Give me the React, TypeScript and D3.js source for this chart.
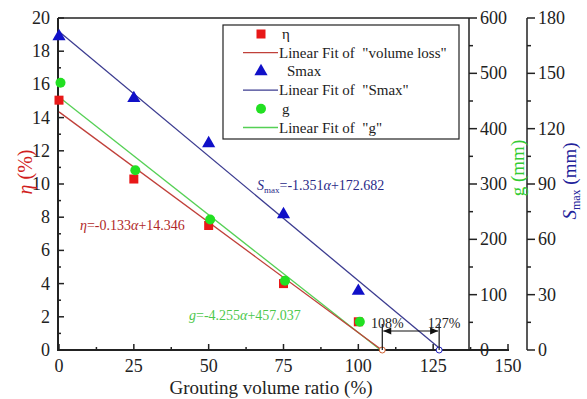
import { useEffect, useRef } from "react";
import * as d3 from "d3";

// grouting volume ratio (%)
const ratio = [0, 25, 50, 75, 100];
const etaVals = [15.05, 10.3, 7.5, 4.0, 1.7];
const smaxVals = [170, 136.5, 112, 73.5, 32];
const gVals = [483, 325, 236, 125, 51];

// linear fits: [slope, intercept, end x]
const etaFit = [-0.133, 14.346, 108];
const smaxFit = [-1.351, 172.682, 127];
const gFit = [-4.255, 457.037, 108];

const xTicks = [0, 25, 50, 75, 100, 125, 150];
const etaTicks = [0, 2, 4, 6, 8, 10, 12, 14, 16, 18, 20];
const gTicks = [0, 100, 200, 300, 400, 500, 600];
const smaxTicks = [0, 30, 60, 90, 120, 150, 180];

const FONT = "Liberation Serif, Times New Roman, DejaVu Serif, serif";

export default function App() {
    const svgRef = useRef<SVGSVGElement | null>(null);

    useEffect(() => {
        const svg = d3.select(svgRef.current);
        svg.selectAll("*").remove();

        const x = d3.scaleLinear().domain([0, 150]).range([59, 508]);
        const yL = d3.scaleLinear().domain([0, 20]).range([350, 18]);
        const yG = d3.scaleLinear().domain([0, 600]).range([350, 18]);
        const yS = d3.scaleLinear().domain([0, 180]).range([350, 18]);

        const axisX = 58;
        const gX = 469;
        const sX = 527;
        const baseY = 350;
        const topY = 18;

        const g = svg.append("g");

        // frame lines
        g.append("line").attr("x1", axisX).attr("x2", x(150) + 1).attr("y1", baseY).attr("y2", baseY)
            .attr("stroke", "#222").attr("stroke-width", 2);
        g.append("line").attr("x1", axisX).attr("x2", gX).attr("y1", topY).attr("y2", topY)
            .attr("stroke", "#222").attr("stroke-width", 1.5);
        g.append("line").attr("x1", axisX).attr("x2", axisX).attr("y1", topY).attr("y2", baseY + 1)
            .attr("stroke", "#222").attr("stroke-width", 2);
        g.append("line").attr("x1", gX).attr("x2", gX).attr("y1", topY).attr("y2", baseY)
            .attr("stroke", "#222").attr("stroke-width", 1.5);
        g.append("line").attr("x1", sX).attr("x2", sX).attr("y1", topY).attr("y2", baseY)
            .attr("stroke", "#222").attr("stroke-width", 1.5);

        // bottom axis ticks (inward)
        d3.range(0, 151, 12.5).forEach((v) => {
            const major = v % 25 === 0;
            g.append("line").attr("x1", x(v)).attr("x2", x(v)).attr("y1", baseY).attr("y2", baseY - (major ? 6 : 3))
                .attr("stroke", "#222").attr("stroke-width", 1.5);
        });
        g.selectAll(".xl").data(xTicks).join("text")
            .attr("x", (d) => x(d)).attr("y", 372).attr("text-anchor", "middle")
            .attr("font-size", 18).attr("fill", "#222").text((d) => d);

        // left axis ticks (inward)
        d3.range(0, 21, 1).forEach((v) => {
            const major = v % 2 === 0;
            g.append("line").attr("x1", axisX).attr("x2", axisX + (major ? 6 : 3)).attr("y1", yL(v)).attr("y2", yL(v))
                .attr("stroke", "#222").attr("stroke-width", 1.5);
        });
        g.selectAll(".yl").data(etaTicks).join("text")
            .attr("x", 50).attr("y", (d) => yL(d) + 6).attr("text-anchor", "end")
            .attr("font-size", 18).attr("fill", "#222").text((d) => d);

        // g axis (outward right)
        d3.range(0, 601, 50).forEach((v) => {
            const major = v % 100 === 0;
            g.append("line").attr("x1", gX).attr("x2", gX + (major ? 8 : 4)).attr("y1", yG(v)).attr("y2", yG(v))
                .attr("stroke", "#222").attr("stroke-width", 1.5);
        });
        g.selectAll(".gl").data(gTicks).join("text")
            .attr("x", gX + 11).attr("y", (d) => yG(d) + 6).attr("text-anchor", "start")
            .attr("font-size", 18).attr("fill", "#222").text((d) => d);

        // Smax axis (outward right)
        d3.range(0, 181, 15).forEach((v) => {
            const major = v % 30 === 0;
            g.append("line").attr("x1", sX).attr("x2", sX + (major ? 8 : 4)).attr("y1", yS(v)).attr("y2", yS(v))
                .attr("stroke", "#222").attr("stroke-width", 1.5);
        });
        g.selectAll(".sl").data(smaxTicks).join("text")
            .attr("x", sX + 11).attr("y", (d) => yS(d) + 6).attr("text-anchor", "start")
            .attr("font-size", 18).attr("fill", "#222").text((d) => d);

        // axis titles
        g.append("text").attr("x", 271).attr("y", 394).attr("text-anchor", "middle")
            .attr("font-size", 19).attr("fill", "#222").text("Grouting volume ratio (%)");

        const etaTitle = g.append("text").attr("transform", "translate(32,172) rotate(-90)")
            .attr("text-anchor", "middle").attr("font-size", 20).attr("fill", "#d02020");
        etaTitle.append("tspan").attr("font-style", "italic").text("η");
        etaTitle.append("tspan").text("\u00a0(%)");

        g.append("text").attr("transform", "translate(524,168) rotate(-90)")
            .attr("text-anchor", "middle").attr("font-size", 19).attr("fill", "#33cc33").text("g (mm)");

        const sTitle = g.append("text").attr("transform", "translate(576,181) rotate(-90)")
            .attr("text-anchor", "middle").attr("font-size", 19).attr("fill", "#22229a");
        sTitle.append("tspan").attr("font-style", "italic").text("S");
        sTitle.append("tspan").attr("font-size", 12).attr("dy", 4).text("max");
        sTitle.append("tspan").attr("dy", -4).text(" (mm)");

        // fit lines
        const fitLine = (fit: number[], ys: d3.ScaleLinear<number, number>, color: string) => {
            const root = -fit[1] / fit[0];
            const xe = Math.min(root, fit[2] + 0.9);
            g.append("line")
                .attr("x1", x(0)).attr("y1", ys(fit[1]))
                .attr("x2", x(xe)).attr("y2", ys(Math.max(0, fit[0] * xe + fit[1])))
                .attr("stroke", color).attr("stroke-width", 1.3);
        };
        fitLine(gFit, yG, "#55d055");
        fitLine(etaFit, yL, "#c0403a");
        fitLine(smaxFit, yS, "#3c3c90");

        // markers
        const sq = 9;
        g.selectAll(".eta").data(ratio).join("rect")
            .attr("x", (d) => x(d) - sq / 2).attr("y", (d, i) => yL(etaVals[i]) - sq / 2)
            .attr("width", sq).attr("height", sq).attr("fill", "#e81818");
        const tri = d3.symbol().type(d3.symbolTriangle).size(75);
        g.selectAll(".smax").data(ratio).join("path")
            .attr("d", tri)
            .attr("transform", (d, i) => `translate(${x(d)},${yS(smaxVals[i])})`)
            .attr("fill", "#1010c8");
        g.selectAll(".gp").data(ratio).join("circle")
            .attr("cx", (d) => x(d) + 1.5).attr("cy", (d, i) => yG(gVals[i]))
            .attr("r", 5).attr("fill", "#22e022");

        // end circles
        g.append("circle").attr("cx", x(108)).attr("cy", baseY).attr("r", 3)
            .attr("fill", "white").attr("stroke", "#d06030").attr("stroke-width", 1);
        g.append("circle").attr("cx", x(127)).attr("cy", baseY).attr("r", 3)
            .attr("fill", "white").attr("stroke", "#2020c0").attr("stroke-width", 1);

        // 108% / 127% annotation
        const annY = 331;
        [108, 127].forEach((v) => {
            g.append("line").attr("x1", x(v)).attr("x2", x(v)).attr("y1", 324).attr("y2", baseY)
                .attr("stroke", "#111").attr("stroke-width", 1.2);
            g.append("text").attr("x", x(v) + 5).attr("y", 328).attr("text-anchor", "middle")
                .attr("font-size", 14).attr("fill", "#222").text(`${v}%`);
        });
        g.append("line").attr("x1", x(108) + 1).attr("x2", x(127) - 1).attr("y1", annY).attr("y2", annY)
            .attr("stroke", "#111").attr("stroke-width", 1.2);
        const a1 = x(108) + 1;
        const a2 = x(127) - 1;
        g.append("path").attr("d", `M${a1},${annY} l8,-3.5 l0,7 z`).attr("fill", "#111");
        g.append("path").attr("d", `M${a2},${annY} l-8,-3.5 l0,7 z`).attr("fill", "#111");

        // equations
        const eq1 = g.append("text").attr("x", 80).attr("y", 230).attr("font-size", 14).attr("fill", "#b02828");
        eq1.append("tspan").attr("font-style", "italic").text("η");
        eq1.append("tspan").text("=-0.133");
        eq1.append("tspan").attr("font-style", "italic").text("α");
        eq1.append("tspan").text("+14.346");

        const eq2 = g.append("text").attr("x", 189).attr("y", 320).attr("font-size", 14).attr("fill", "#4cc84c");
        eq2.append("tspan").attr("font-style", "italic").text("g");
        eq2.append("tspan").text("=-4.255");
        eq2.append("tspan").attr("font-style", "italic").text("α");
        eq2.append("tspan").text("+457.037");

        const eq3 = g.append("text").attr("x", 257).attr("y", 190).attr("font-size", 14).attr("fill", "#2a2a88");
        eq3.append("tspan").attr("font-style", "italic").text("S");
        eq3.append("tspan").attr("font-size", 9).attr("dy", 3).text("max");
        eq3.append("tspan").attr("dy", -3).text("=-1.351");
        eq3.append("tspan").attr("font-style", "italic").text("α");
        eq3.append("tspan").text("+172.682");

        // legend
        const lg = g.append("g");
        lg.append("rect").attr("x", 223).attr("y", 25).attr("width", 236).attr("height", 114)
            .attr("fill", "white").attr("stroke", "#222").attr("stroke-width", 1.2);
        const rowY = (i: number) => 34 + i * 18.7;
        const symX = 261;
        lg.append("rect").attr("x", symX - 4.5).attr("y", rowY(0) - 4.5).attr("width", 9).attr("height", 9).attr("fill", "#e81818");
        lg.append("path").attr("d", tri).attr("transform", `translate(${symX},${rowY(2)})`).attr("fill", "#1010c8");
        lg.append("circle").attr("cx", symX).attr("cy", rowY(4)).attr("r", 5).attr("fill", "#22e022");
        const lineCols = ["#c0403a", "#3c3c90", "#55d055"];
        [1, 3, 5].forEach((r, k) => {
            lg.append("line").attr("x1", 243).attr("x2", 278).attr("y1", rowY(r)).attr("y2", rowY(r))
                .attr("stroke", lineCols[k]).attr("stroke-width", 1.3);
        });
        const labels = ["η", "Linear Fit of\u00a0 \"volume loss\"", "Smax", "Linear Fit of\u00a0 \"Smax\"", "g", "Linear Fit of\u00a0 \"g\""];
        labels.forEach((t, i) => {
            lg.append("text").attr("x", i === 2 ? 287 : i % 2 === 0 ? 282 : 279).attr("y", rowY(i) + 5)
                .attr("font-size", 15).attr("fill", "#222").text(t);
        });
    }, []);

    return (
        <div style={{ position: "fixed", left: 0, top: 0 }}>
            <svg ref={svgRef} width={587} height={399}
                style={{ display: "block", background: "white", fontFamily: FONT }} />
        </div>
    );
}
